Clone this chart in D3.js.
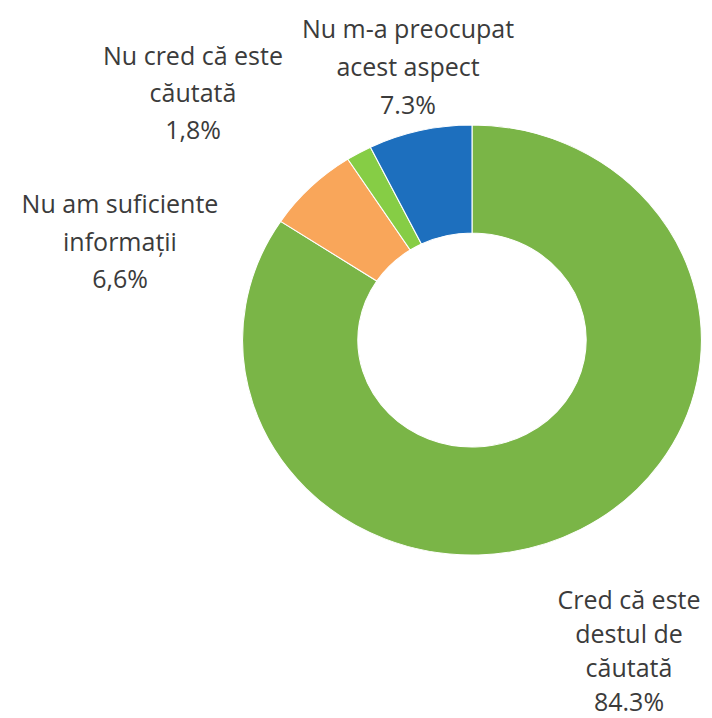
<!DOCTYPE html>
<html>
<head>
<meta charset="utf-8">
<style>
body { margin: 0; background: #ffffff; }
.slice_label {
  fill: #3b3b3b;
  font-family: "Open Sans";
  font-size: 25px;
}
</style>
</head>
<body>
<div id="my_dataviz"></div>
<script src="https://d3js.org/d3.v7.min.js"></script>
<script>
// data (clockwise from 12 o'clock)
var categories = [
  ["Cred că este", "destul de", "căutată"],
  ["Nu am suficiente", "informații"],
  ["Nu cred că este", "căutată"],
  ["Nu m-a preocupat", "acest aspect"]
];
var values = [84.3, 6.6, 1.8, 7.3];
var valueLabels = ["84.3%", "6,6%", "1,8%", "7.3%"];
var colors = ["#7ab547", "#f9a65a", "#86cd45", "#1d6fbe"];

// label block layout: centre x, first baseline, line gap
var labelPos = [[629, 609, 34], [120, 213, 37.5], [193, 65, 37], [408, 38, 38]];

var width = 712, height = 718;
var cx = 472, cy = 340;
var outer = 215, inner = 107;
var stretchX = 1.067; // reference donut is slightly wider than tall

var svg = d3.select("#my_dataviz")
  .append("svg")
    .attr("width", width)
    .attr("height", height);

var pie = d3.pie().sort(null).value(function(d) { return d; });
var arc = d3.arc().innerRadius(inner).outerRadius(outer);

var g = svg.append("g")
  .attr("transform", "translate(" + cx + "," + cy + ") scale(" + stretchX + ",1)");

g.selectAll("path")
  .data(pie(values))
  .enter()
  .append("path")
    .attr("d", arc)
    .attr("fill", function(d, i) { return colors[i]; })
    .attr("stroke", "#ffffff")
    .attr("stroke-width", 1);

// labels
categories.forEach(function(lines, i) {
  var p = labelPos[i];
  var t = svg.append("text")
    .attr("class", "slice_label")
    .attr("text-anchor", "middle")
    .attr("x", p[0])
    .attr("y", p[1]);
  lines.concat([valueLabels[i]]).forEach(function(s, k) {
    t.append("tspan")
      .attr("x", p[0])
      .attr("dy", k === 0 ? 0 : p[2])
      .text(s);
  });
});
</script>
</body>
</html>
